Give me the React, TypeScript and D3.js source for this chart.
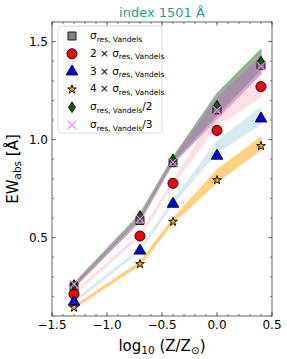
import React from "react";
import * as d3 from "d3";

const W = 287, H = 359;
const xVals = [-1.3, -0.7, -0.4, 0.0, 0.4];
const xTicks = [-1.5, -1.0, -0.5, 0.0, 0.5];
const yTicks = [0.5, 1.0, 1.5];

// marker values
const sigma1 = [0.25, 0.587, 0.882, 1.152, 1.38];
const sigma2 = [0.212, 0.508, 0.777, 1.047, 1.27];
const sigma3 = [0.172, 0.433, 0.672, 0.917, 1.107];
const sigma4 = [0.143, 0.365, 0.581, 0.793, 0.967];
const sigmaHalf = [0.258, 0.61, 0.899, 1.172, 1.397];
const sigmaThird = [0.262, 0.595, 0.885, 1.15, 1.375];

// band ranges
const band1Lo = [0.245, 0.582, 0.878, 1.105, 1.335];
const band1Hi = [0.258, 0.6, 0.898, 1.21, 1.43];
const band2Lo = [0.21, 0.505, 0.772, 1.07, 1.22];
const band2Hi = [0.222, 0.518, 0.79, 1.15, 1.31];
const band3Lo = [0.168, 0.432, 0.672, 0.935, 1.08];
const band3Hi = [0.178, 0.444, 0.69, 0.99, 1.165];
const band4Lo = [0.14, 0.36, 0.575, 0.782, 0.95];
const band4Hi = [0.15, 0.376, 0.597, 0.845, 1.012];
const bandHalfLo = [0.25, 0.598, 0.89, 1.125, 1.36];
const bandHalfHi = [0.266, 0.62, 0.91, 1.235, 1.46];
const bandThirdLo = [0.248, 0.59, 0.884, 1.11, 1.34];
const bandThirdHi = [0.264, 0.61, 0.904, 1.22, 1.44];

const FONT = "DejaVu Sans, sans-serif";

const x = d3.scaleLinear().domain([-1.5, 0.5]).range([52, 272]);
const y = d3.scaleLinear().domain([0.1, 1.6]).range([316, 22]);

type Mk = "square" | "circle" | "triangle" | "star" | "diamond" | "x";

function markerPath(m: Mk): string {
  switch (m) {
    case "square": return d3.symbol(d3.symbolSquare, 64)()!;
    case "circle": return d3.symbol(d3.symbolCircle, 80)()!;
    case "triangle": return d3.symbol(d3.symbolTriangle, 58)()!;
    case "star": return d3.symbol(d3.symbolStar, 24)()!;
    case "x": return d3.symbol(d3.symbolTimes, 50)()!;
    case "diamond": {
      const w = 3.4, h = 5.4;
      return `M0,${-h}L${w},0L0,${h}L${-w},0Z`;
    }
  }
}

const series = [
  { name: "s1", vals: sigma1, lo: band1Lo, hi: band1Hi, band: "#808080", fill: "#808080", mk: "square" as Mk, pre: "", post: "" },
  { name: "s2", vals: sigma2, lo: band2Lo, hi: band2Hi, band: "#FFC0CB", fill: "#FF0000", mk: "circle" as Mk, pre: "2 × ", post: "" },
  { name: "s3", vals: sigma3, lo: band3Lo, hi: band3Hi, band: "#ADD8E6", fill: "#0000FF", mk: "triangle" as Mk, pre: "3 × ", post: "" },
  { name: "s4", vals: sigma4, lo: band4Lo, hi: band4Hi, band: "#FFA500", fill: "#FFA500", mk: "star" as Mk, pre: "4 × ", post: "" },
  { name: "sh", vals: sigmaHalf, lo: bandHalfLo, hi: bandHalfHi, band: "#008000", fill: "#006400", mk: "diamond" as Mk, pre: "", post: "/2" },
  { name: "st", vals: sigmaThird, lo: bandThirdLo, hi: bandThirdHi, band: "#EE82EE", fill: "#EE82EE", mk: "x" as Mk, pre: "", post: "/3" },
];

function Marker({ m, fill, cx, cy }: { m: Mk; fill: string; cx: number; cy: number }) {
  const d = markerPath(m);
  if (m === "x") {
    return <path d={d} transform={`translate(${cx},${cy})`} fill="none" stroke={fill} strokeWidth={1.2} />;
  }
  return <path d={d} transform={`translate(${cx},${cy})`} fill={fill} stroke="#000" strokeWidth={0.9} />;
}

export default function App() {
  const area = (lo: number[], hi: number[]) =>
    d3.area<number>().x((_, i) => x(xVals[i])).y0((_, i) => y(lo[i])).y1((_, i) => y(hi[i]))(xVals)!;

  const [x0, x1] = x.range();
  const [yb, yt] = y.range();
  const minorX = d3.range(-1.5, 0.5001, 0.1).map((v) => +v.toFixed(2));
  const minorY = d3.range(0.1, 1.6001, 0.1).map((v) => +v.toFixed(2));
  const spine = "#555";

  const legX = 58, legY = 26, legW = 104, legH = 107;
  const rowY = (i: number) => 36 + i * 17.8;

  return (
    <svg width={W} height={H} style={{ position: "absolute", left: 0, top: 0 }} fontFamily={FONT}>
      <rect x={0} y={0} width={W} height={H} fill="#fff" />
      <defs>
        <clipPath id="plotclip">
          <rect x={x0} y={yt} width={x1 - x0} height={yb - yt} />
        </clipPath>
      </defs>
      <g clipPath="url(#plotclip)">
        {series.map((s) => (
          <g key={"b" + s.name} opacity={0.5}>
            <path d={area(s.lo, s.hi)} fill={s.band} stroke={s.band} strokeWidth={1.2} strokeLinejoin="round" />
          </g>
        ))}
        {series.map((s) =>
          s.vals.map((v, i) => (
            <Marker key={s.name + i} m={s.mk} fill={s.fill} cx={x(xVals[i])} cy={y(v)} />
          ))
        )}
      </g>
      {/* ticks */}
      {minorX.map((v) => (
        <g key={"mx" + v} stroke={spine} strokeWidth={0.8}>
          <line x1={x(v)} x2={x(v)} y1={yb} y2={yb - 2} />
          <line x1={x(v)} x2={x(v)} y1={yt} y2={yt + 2} />
        </g>
      ))}
      {xTicks.map((v) => (
        <g key={"tx" + v} stroke={spine} strokeWidth={0.8}>
          <line x1={x(v)} x2={x(v)} y1={yb} y2={yb - 4} />
          <line x1={x(v)} x2={x(v)} y1={yt} y2={yt + 4} />
        </g>
      ))}
      {minorY.map((v) => (
        <g key={"my" + v} stroke={spine} strokeWidth={0.8}>
          <line x1={x0} x2={x0 + 2} y1={y(v)} y2={y(v)} />
          <line x1={x1} x2={x1 - 2} y1={y(v)} y2={y(v)} />
        </g>
      ))}
      {yTicks.map((v) => (
        <g key={"ty" + v} stroke={spine} strokeWidth={0.8}>
          <line x1={x0} x2={x0 + 4} y1={y(v)} y2={y(v)} />
          <line x1={x1} x2={x1 - 4} y1={y(v)} y2={y(v)} />
        </g>
      ))}
      <rect x={x0} y={yt} width={x1 - x0} height={yb - yt} fill="none" stroke={spine} strokeWidth={0.9} />
      {xTicks.map((v) => (
        <text key={"lx" + v} x={x(v)} y={329} textAnchor="middle" fontSize={12} fill="#000">
          {v < 0 ? "−" + Math.abs(v).toFixed(1) : v.toFixed(1)}
        </text>
      ))}
      {yTicks.map((v) => (
        <text key={"ly" + v} x={48} y={y(v) + 4.5} textAnchor="end" fontSize={12} fill="#000">
          {v.toFixed(1)}
        </text>
      ))}
      {/* title */}
      <text x={162} y={17} textAnchor="middle" fontSize={13} fill="#1E9E98">index 1501 Å</text>
      {/* x label */}
      <text x={162} y={351} textAnchor="middle" fontSize={15} fill="#000">
        log<tspan fontSize={10.5} dy={3}>10</tspan><tspan dy={-3}> (Z/Z</tspan><tspan fontSize={10.5} dy={3}>⊙</tspan><tspan dy={-3}>)</tspan>
      </text>
      {/* y label */}
      <text transform={`translate(18,${(yb + yt) / 2}) rotate(-90)`} textAnchor="middle" fontSize={15} fill="#000">
        EW<tspan fontSize={10.5} dy={3}>abs</tspan><tspan dy={-3}> [Å]</tspan>
      </text>
      {/* legend */}
      <rect x={legX} y={legY} width={legW} height={legH} rx={3} fill="#fff" fillOpacity={0.8} stroke="#d0d0d0" strokeWidth={0.8} />
      {series.map((s, i) => (
        <g key={"leg" + s.name}>
          <Marker m={s.mk} fill={s.fill} cx={72} cy={rowY(i)} />
          <text x={90} y={rowY(i) + 3} fontSize={10.5} fill="#000">
            {s.pre}σ<tspan fontSize={7.5} dy={2.5}>res, Vandels</tspan>
            {s.post ? <tspan dy={-2.5}>{s.post}</tspan> : null}
          </text>
        </g>
      ))}
    </svg>
  );
}
